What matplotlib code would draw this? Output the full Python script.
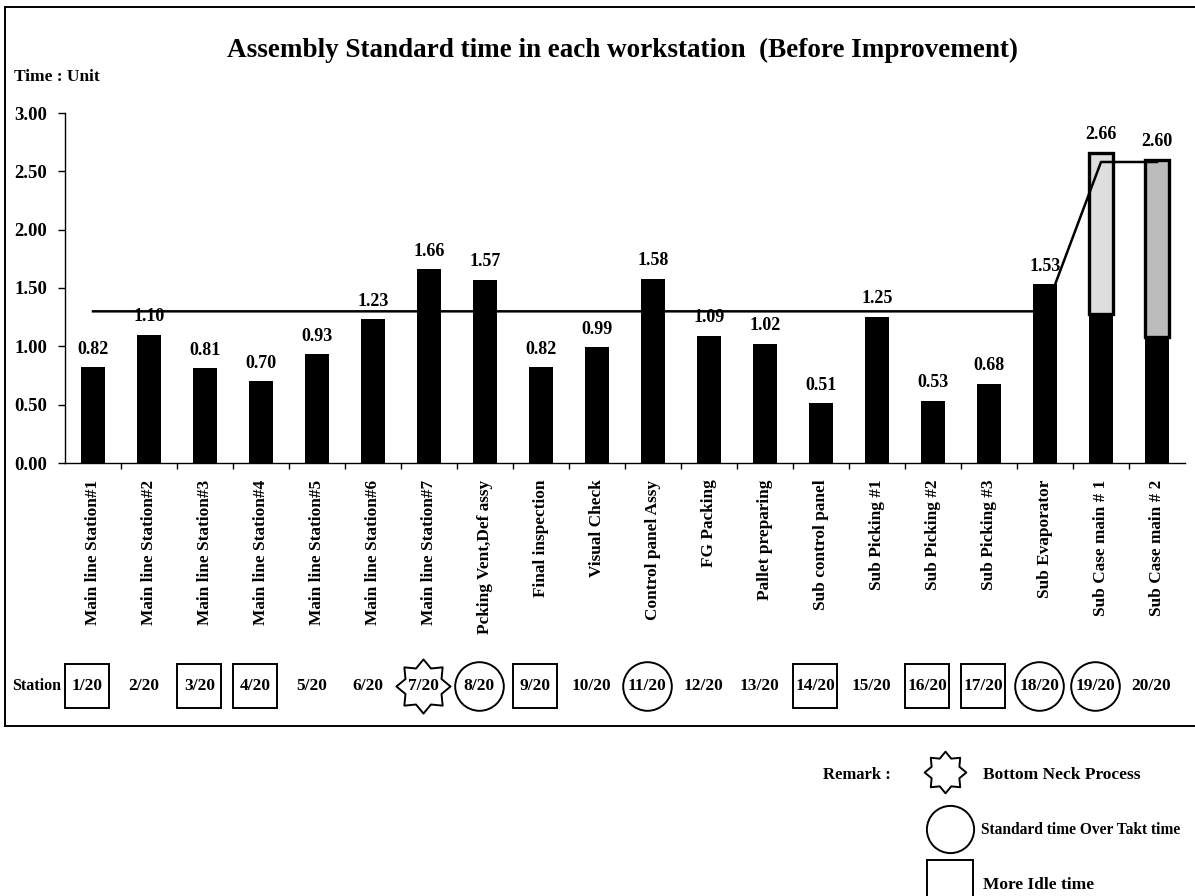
import numpy as np
import matplotlib
matplotlib.use("Agg")
import matplotlib.pyplot as plt
from matplotlib.path import Path
from matplotlib.patches import Rectangle
from matplotlib.lines import Line2D
import matplotlib.transforms as mtransforms

# ---------------- data ----------------
stations = ["Main line Station#1", "Main line Station#2", "Main line Station#3",
            "Main line Station#4", "Main line Station#5", "Main line Station#6",
            "Main line Station#7", "Pcking Vent,Def assy", "Final inspection",
            "Visual Check", "Control panel Assy", "FG Packing", "Pallet preparing",
            "Sub control panel", "Sub Picking #1", "Sub Picking #2", "Sub Picking #3",
            "Sub Evaporator", "Sub Case main # 1", "Sub Case main # 2"]
std_time = [0.82, 1.10, 0.81, 0.70, 0.93, 1.23, 1.66, 1.57, 0.82, 0.99,
            1.58, 1.09, 1.02, 0.51, 1.25, 0.53, 0.68, 1.53, 2.66, 2.60]
takt_time = [1.30, 1.30, 1.30, 1.30, 1.30, 1.30, 1.30, 1.30, 1.30, 1.30,
             1.30, 1.30, 1.30, 1.30, 1.30, 1.30, 1.30, 1.30, 2.58, 2.58]
station_ids = [f"{i}/20" for i in range(1, 21)]
# marks under the station numbers: 'box' more idle time, 'circle' over takt, 'star' bottleneck
station_marks = ["box", "", "box", "box", "", "", "star", "circle", "box", "",
                 "circle", "", "", "box", "", "box", "box", "circle", "circle", ""]
# the two sub-case bars are dark only in their lower part
dark_part_idx = [18, 19]
dark_part_top = [1.28, 1.08]
yticks = [0.00, 0.50, 1.00, 1.50, 2.00, 2.50, 3.00]

SERIF = ["Liberation Serif", "DejaVu Serif"]
plt.rcParams["font.family"] = SERIF
plt.rcParams["font.weight"] = "bold"

W, H = 1195, 896
fig = plt.figure(figsize=(W / 100, H / 100), dpi=100)

def fx(px):
    return px / W

def fy(py):
    return 1 - py / H

# axes placement in pixels
ax_left, ax_right, ax_top, ax_bottom = 65, 1185, 113, 463
ax = fig.add_axes([fx(ax_left), fy(ax_bottom), fx(ax_right - ax_left), (ax_bottom - ax_top) / H])

x = np.arange(len(stations))
ax.bar(x, std_time, width=0.43, color="black", zorder=2)
for i, top in zip(dark_part_idx, dark_part_top):
    ax.bar(x[i], std_time[i] - top, bottom=top, width=0.43,
           color="#dedede" if i == 18 else "#bcbcbc",
           edgecolor="black", linewidth=2.4, zorder=3)

ax.plot(x, takt_time, color="black", linewidth=1.8, zorder=4)

for xi, v in zip(x, std_time):
    ax.annotate(f"{v:.2f}", (xi, v), xytext=(0, 7), textcoords="offset points",
                ha="center", va="bottom", fontsize=13, fontweight="bold",
                annotation_clip=False, zorder=5)

ax.set_xlim(-0.5, 19.5)
ax.set_ylim(0, 3.0)
ax.set_yticks(yticks)
ax.set_yticklabels([f"{t:.2f}" for t in yticks], fontsize=13.5, fontweight="bold")
ax.set_xticks(x)
ax.set_xticklabels(stations, rotation=90, fontsize=12.4, fontweight="bold", va="top", ha="center")
ax.tick_params(axis="x", length=0, pad=12)
ax.tick_params(axis="y", length=5, width=1, direction="out", pad=8)
ax.set_xticks(np.arange(0.5, 19.5, 1), minor=True)
ax.tick_params(axis="x", which="minor", length=4, width=1, direction="out")
for s in ["top", "right"]:
    ax.spines[s].set_visible(False)
ax.spines["left"].set_linewidth(1)
ax.spines["bottom"].set_linewidth(1)

# title and unit
fig.text(fx(623), fy(50), "Assembly Standard time in each workstation  (Before Improvement)",
         ha="center", va="center", fontsize=19.5, fontweight="bold")
fig.text(fx(14), fy(77), "Time : Unit", ha="left", va="center", fontsize=12.5, fontweight="bold")

# station row
row_y = 686
fig.text(fx(12), fy(row_y), "Station", ha="left", va="center", fontsize=11.5, fontweight="bold")
trans_row = mtransforms.blended_transform_factory(ax.transData, fig.transFigure)
star_path = Path.unit_regular_star(8, 0.72)
for xi, sid, mark in zip(x, station_ids, station_marks):
    xpos = xi - 0.1
    ax.text(xpos, fy(row_y), sid, transform=trans_row, ha="center", va="center",
            fontsize=12.5, fontweight="bold", clip_on=False)
    if mark:
        marker = {"box": "s", "circle": "o", "star": star_path}[mark]
        size = {"box": 31, "circle": 35, "star": 39}[mark]
        ax.plot([xpos], [fy(row_y)], transform=trans_row, marker=marker,
                markersize=size, markerfacecolor="none", markeredgecolor="black",
                markeredgewidth=1.4, clip_on=False)

# outer frame
frame = [((5, 7), (1200, 7)), ((5, 7), (5, 726)), ((5, 726), (1200, 726))]
for (x0, y0), (x1, y1) in frame:
    fig.add_artist(Line2D([fx(x0), fx(x1)], [fy(y0), fy(y1)], color="black", lw=1.4))

# remark legend
fig.text(fx(823), fy(775), "Remark :", ha="left", va="center", fontsize=12, fontweight="bold")
fig.add_artist(Line2D([fx(945)], [fy(772)], marker=star_path, markersize=30,
                      markerfacecolor="none", markeredgecolor="black", markeredgewidth=1.4))
fig.text(fx(983), fy(775), "Bottom Neck Process", ha="left", va="center", fontsize=12.5, fontweight="bold")
fig.add_artist(Line2D([fx(950)], [fy(829)], marker="o", markersize=34,
                      markerfacecolor="none", markeredgecolor="black", markeredgewidth=1.4))
fig.text(fx(981), fy(830), "Standard time Over Takt time", ha="left", va="center",
         fontsize=11.2, fontweight="bold")
fig.add_artist(Rectangle((fx(927), fy(905)), fx(46), (905 - 860) / H, fill=False,
                         ec="black", lw=1.4, transform=fig.transFigure))
fig.text(fx(983), fy(885), "More Idle time", ha="left", va="center", fontsize=12.5, fontweight="bold")

fig.savefig("out.png", dpi=100)
